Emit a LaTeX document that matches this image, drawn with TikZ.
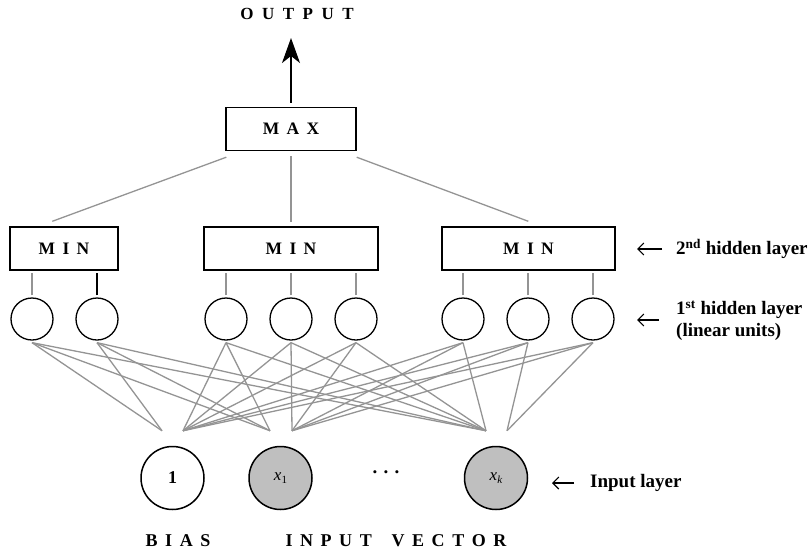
\documentclass[tikz,border=0pt]{standalone}
\usepackage{fontspec}
\setmainfont{Liberation Serif}
\usetikzlibrary{arrows.meta,calc}
% letter spacing for the spaced-out capitals
\newcommand\lsp{\hspace{0.42em}}

\begin{document}
\begin{tikzpicture}[x=1pt,y=-1pt,
  box/.style={draw, line width=1.4pt, minimum height=43pt, inner sep=0pt,
              font=\fontsize{17.5}{20}\selectfont\bfseries},
  unit/.style={circle, draw, line width=1.3pt, minimum size=42pt, inner sep=0pt},
  innode/.style={circle, draw, line width=1.5pt, minimum size=63pt, inner sep=0pt},
  wire/.style={draw=black!42, line width=1.3pt},
  lab/.style={font=\fontsize{19}{22}\selectfont\bfseries, align=left, anchor=west, inner sep=0pt},
  caps/.style={font=\fontsize{18}{20}\selectfont\bfseries, inner sep=0pt},
  pointer/.style={line width=1.1pt, -{Straight Barb[length=6pt,width=12pt]}},
]
\useasboundingbox (0,0) rectangle (808,555);

% output and the max unit
\node[font=\fontsize{17}{19}\selectfont\bfseries, inner sep=0pt] (out) at (297,14)
  {O\hspace{0.5em}U\hspace{0.5em}T\hspace{0.5em}P\hspace{0.5em}U\hspace{0.5em}T};
\node[box, minimum width=130pt] (max) at (291,129) {M\lsp A\lsp X};
\coordinate (tip) at (291,38);
\draw[line width=1.4pt, -{Stealth[length=25pt,width=18pt,inset=7pt]}]
  ($(max.north)+(0,-4)$) -- (tip);

% second hidden layer
\node[box, minimum width=108pt] (min1) at (64,248.5) {M\lsp I\lsp N};
\node[box, minimum width=174pt] (min2) at (291,248.5) {M\lsp I\lsp N};
\node[box, minimum width=173pt] (min3) at (528.5,248.5) {M\lsp I\lsp N};

\draw[wire] ($(max.south west)+(1,6)$) -- ($(min1.north west)+(43,-5)$);
\draw[wire] ($(max.south)+(0,5)$) -- ($(min2.north)+(0,-4)$);
\draw[wire] ($(max.south east)+(0,6)$) -- ($(min3.north west)+(87,-5)$);

% first hidden layer (linear units)
\foreach \n/\x in {h1/32, h2/97, h3/226, h4/291, h5/356, h6/463, h7/528, h8/593}
  \node[unit] (\n) at (\x,319) {};

\foreach \m/\n in {min1/h1, min2/h3, min2/h4, min2/h5, min3/h6, min3/h7, min3/h8}
  \draw[wire] ($(\n.north)+(0,-2)$) -- ($(\m.south -| \n.north)+(0,2)$);
\draw[line width=1.5pt] ($(h2.north)+(0,-2)$) -- ($(min1.south -| h2.north)+(0,2)$);

% input layer
\node[innode] (bias) at (172.5,478) {\fontsize{18}{20}\selectfont\bfseries 1};
\node[innode, fill=black!25] (x1) at (280.5,478)
  {\fontsize{17}{18}\selectfont\textit{x}\raisebox{-2.5pt}{\fontsize{11}{11}\selectfont 1}};
\node[font=\fontsize{19}{20}\selectfont\bfseries, inner sep=0pt] (dots) at (386,472) {.\,\,.\,\,.};
\node[innode, fill=black!25] (xk) at (496,478)
  {\fontsize{17}{18}\selectfont\textit{x}\raisebox{-2.5pt}{\fontsize{11}{11}\selectfont\textit{k}}};

\coordinate (bL) at ($(bias.north)+(-10.5,-15)$);
\coordinate (bR) at ($(bias.north)+(10.5,-15)$);
\coordinate (xL) at ($(x1.north)+(-10.5,-15)$);
\coordinate (xR) at ($(x1.north)+(11.5,-15)$);
\coordinate (kL) at ($(xk.north)+(-10,-15)$);
\coordinate (kR) at ($(xk.north)+(11,-15)$);

% every linear unit sees the bias and both inputs
\foreach \h/\b/\x/\k in {h1/bL/xL/kL, h2/bL/xL/kL, h3/bR/xL/kL, h4/bR/xR/kL,
                          h5/bR/xR/kL, h6/bR/xR/kL, h7/bR/xR/kR, h8/bR/xR/kR} {
  \draw[wire] ($(\h.south)+(0,2)$) -- (\b);
  \draw[wire] ($(\h.south)+(0,2)$) -- (\x);
  \draw[wire] ($(\h.south)+(0,2)$) -- (\k);
}

% layer captions
\node[lab] (l2) at (676,249) {2\textsuperscript{nd} hidden layer};
\coordinate (p2) at (637,249);
\draw[pointer] ($(l2.west)+(-14,0)$) -- (p2);

\node[lab] (l1) at (676,321) {1\textsuperscript{st} hidden layer\\(linear units)};
\coordinate (p1) at (637,320);
\draw[pointer] ($(l1.west)+(-17,-1)$) -- (p1);

\node[lab] (l0) at (590,483) {Input layer};
\coordinate (p0) at (552,483);
\draw[pointer] ($(l0.west)+(-16,0)$) -- (p0);

\node[caps] (biaslab) at (178,541) {B\lsp I\lsp A\lsp S};
\node[caps] (veclab) at (396,541)
  {I\lsp N\lsp P\lsp U\lsp T\hspace{1.1em}V\lsp E\lsp C\lsp T\lsp O\lsp R};
\end{tikzpicture}
\end{document}
